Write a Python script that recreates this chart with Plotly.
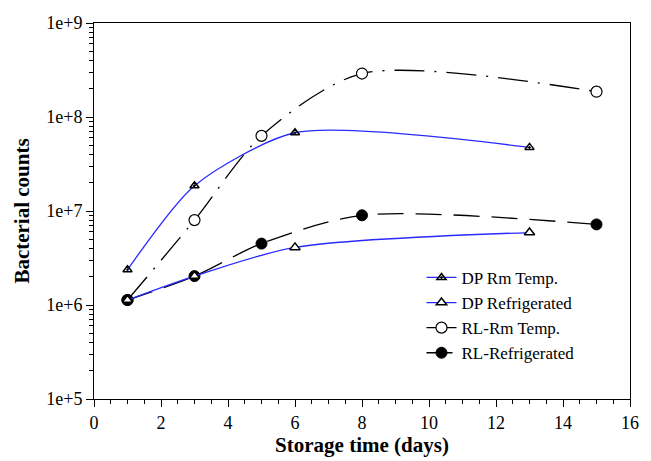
import plotly.graph_objects as go

days_dp = [1, 3, 6, 13]
dp_rm_temp = [2.37e6, 1.86e7, 6.8e7, 4.75e7]
dp_refrig = [1.13e6, 2.03e6, 4.1e6, 5.9e6]

days_rl = [1, 3, 5, 8, 15]
rl_rm_temp = [1.13e6, 8.0e6, 6.3e7, 2.9e8, 1.86e8]
rl_refrig = [1.13e6, 2.03e6, 4.5e6, 9.0e6, 7.2e6]

y_tickvals = [1e5, 1e6, 1e7, 1e8, 1e9]
y_ticktext = ["1e+5", "1e+6", "1e+7", "1e+8", "1e+9"]

FONT = "Liberation Serif, Times New Roman, serif"

fig = go.Figure()
fig.add_trace(go.Scatter(
    x=days_rl, y=rl_rm_temp, name="RL-Rm Temp.", mode="lines+markers",
    line=dict(color="black", width=1.3, dash="30px,10px,2px,10px", shape="spline", smoothing=0.8),
    marker=dict(symbol="circle", size=11, color="white", line=dict(color="black", width=1.2)),
    legendrank=3))
fig.add_trace(go.Scatter(
    x=days_rl, y=rl_refrig, name="RL-Refrigerated", mode="lines+markers",
    line=dict(color="black", width=1.3, dash="26px,12px", shape="spline", smoothing=0.8),
    marker=dict(symbol="circle", size=11, color="black", line=dict(color="black", width=1)),
    legendrank=4))
fig.add_trace(go.Scatter(
    x=days_dp, y=dp_rm_temp, name="DP Rm Temp.", mode="lines+markers",
    line=dict(color="#2a2aff", width=1.3, shape="spline", smoothing=0.7),
    marker=dict(symbol="triangle-up-open-dot", size=8, color="black", line=dict(color="black", width=1.5)),
    legendrank=1))
fig.add_trace(go.Scatter(
    x=days_dp, y=dp_refrig, name="DP Refrigerated", mode="lines+markers",
    line=dict(color="#2a2aff", width=1.3, shape="spline", smoothing=0.8),
    marker=dict(symbol="triangle-up", size=9, color="white", line=dict(color="black", width=1.5)),
    legendrank=2))

fig.update_layout(
    width=651, height=461,
    margin=dict(l=94, r=14, t=23, b=58),
    paper_bgcolor="white", plot_bgcolor="white",
    font=dict(family=FONT, color="black", size=18),
    legend=dict(x=0.611, y=0.37, xanchor="left", yanchor="top",
                bgcolor="rgba(0,0,0,0)", font=dict(size=17, family=FONT),
                tracegroupgap=0),
    showlegend=True,
)
fig.update_xaxes(
    range=[0, 16], dtick=2, tick0=0,
    showline=True, linecolor="black", linewidth=1, mirror=True,
    ticks="outside", ticklen=7, tickcolor="black", tickwidth=1,
    minor=dict(dtick=0.5, tick0=0, ticks="outside", ticklen=4, tickcolor="black", showgrid=False),
    showgrid=False, zeroline=False,
    tickfont=dict(size=18, family=FONT),
    title=dict(text="<b>Storage time (days)</b>", font=dict(size=21, family=FONT), standoff=2),
)
fig.update_yaxes(
    type="log", range=[5, 9],
    tickvals=y_tickvals, ticktext=y_ticktext,
    showline=True, linecolor="black", linewidth=1, mirror=True,
    ticks="outside", ticklen=7, tickcolor="black", tickwidth=1,
    minor=dict(dtick="D1", ticks="outside", ticklen=4, tickcolor="black", showgrid=False),
    showgrid=False, zeroline=False,
    tickfont=dict(size=18, family=FONT),
    title=dict(text="<b>Bacterial counts</b>", font=dict(size=21, family=FONT), standoff=10),
)

fig.write_html("out.html")
